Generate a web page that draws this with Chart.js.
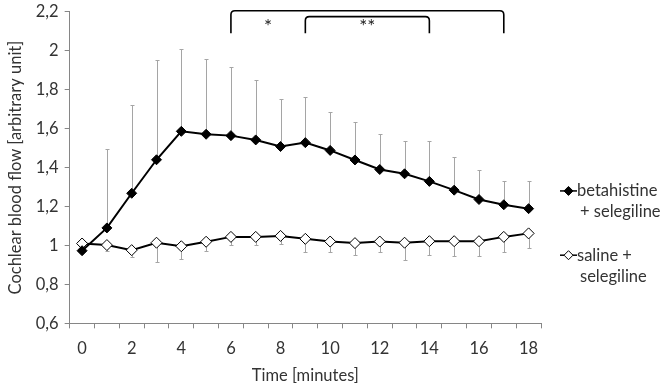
<!DOCTYPE html>
<html><head><meta charset="utf-8">
<script src="https://cdn.jsdelivr.net/npm/chart.js@4/dist/chart.umd.min.js"></script>
<style>html,body{margin:0;padding:0;background:#fff}#wrap{width:662px;height:383px;position:relative}</style>
</head><body><div id="wrap"><canvas id="c" width="662" height="383"></canvas></div>
<script>
// ---- data ----
const timeLabels = ['0','1','2','3','4','5','6','7','8','9','10','11','12','13','14','15','16','17','18'];
const betaValues = [0.973,1.090,1.268,1.440,1.586,1.571,1.564,1.542,1.508,1.528,1.488,1.439,1.390,1.368,1.329,1.284,1.236,1.209,1.189];
const betaSD     = [0.010,0.403,0.454,0.510,0.423,0.387,0.352,0.310,0.243,0.235,0.199,0.195,0.184,0.170,0.206,0.170,0.150,0.122,0.142];
const salineValues = [1.010,1.002,0.976,1.014,0.996,1.019,1.044,1.044,1.049,1.034,1.020,1.012,1.020,1.014,1.022,1.022,1.022,1.044,1.062];
const salineSD     = [0.010,0.031,0.033,0.097,0.065,0.048,0.042,0.042,0.044,0.069,0.052,0.059,0.052,0.087,0.069,0.076,0.076,0.076,0.074];
const seriesNames = ['betahistine + selegiline','saline + selegiline'];
const legendLines = [['betahistine','+ selegiline'],['saline +','selegiline']];
const yMin = 0.6, yMax = 2.2, yStep = 0.2;
const brackets = [{from:6,to:17,level:2.205},{from:9,to:14,level:2.175}];
const bracketEnd = 2.09;
const starMarks = [{at:7.5,text:'*'},{at:11.5,text:'**'}];
const starLevel = 2.12;

const FONT = 'Lato';
const FS = 16.5;
const TXT = '#333333';
const AXIS = '#868686';

const errorBars = {
  id:'errorBars',
  beforeDatasetsDraw(chart){
    const {ctx, scales:{x,y}} = chart;
    ctx.save();
    ctx.strokeStyle = '#a5a5a5'; ctx.lineWidth = 1;
    const draw = (vals, errs, dir) => {
      vals.forEach((v,i)=>{
        const px = Math.round(x.getPixelForValue(i))+0.5;
        const y0 = y.getPixelForValue(v);
        const y1 = Math.round(y.getPixelForValue(v+dir*errs[i]))+0.5;
        ctx.beginPath(); ctx.moveTo(px,y0); ctx.lineTo(px,y1);
        ctx.moveTo(px-2,y1); ctx.lineTo(px+2,y1); ctx.stroke();
      });
    };
    draw(betaValues, betaSD, 1);
    draw(salineValues, salineSD, -1);
    ctx.restore();
  }
};

const annot = {
  id:'annot',
  afterDraw(chart){
    const {ctx, scales:{x,y}} = chart;
    ctx.save();
    ctx.strokeStyle = '#000'; ctx.lineWidth = 1.6;
    const yb = y.getPixelForValue(bracketEnd);
    brackets.forEach(b=>{
      const x0 = x.getPixelForValue(b.from), x1 = x.getPixelForValue(b.to);
      const yt = y.getPixelForValue(b.level), r = 4;
      ctx.beginPath();
      ctx.moveTo(x0,yb); ctx.lineTo(x0,yt+r);
      ctx.quadraticCurveTo(x0,yt,x0+r,yt);
      ctx.lineTo(x1-r,yt);
      ctx.quadraticCurveTo(x1,yt,x1,yt+r);
      ctx.lineTo(x1,yb);
      ctx.stroke();
    });
    ctx.fillStyle = '#222';
    ctx.font = '19px ' + FONT;
    ctx.textAlign = 'center'; ctx.textBaseline = 'middle';
    starMarks.forEach(s=>{
      ctx.fillText(s.text, (x.getPixelForValue(Math.floor(s.at))+x.getPixelForValue(Math.ceil(s.at)))/2, y.getPixelForValue(starLevel));
    });
    // legend
    const ca = chart.chartArea;
    const lx = ca.right + 19;
    const groupY = [y.getPixelForValue(1.28), y.getPixelForValue(0.95)];
    ctx.font = FS + 'px ' + FONT; ctx.textAlign = 'left'; ctx.textBaseline = 'middle';
    chart.data.datasets.forEach((ds,i)=>{
      const cy = groupY[i];
      ctx.strokeStyle = ds.borderColor; ctx.lineWidth = 1.5;
      ctx.beginPath(); ctx.moveTo(lx, cy); ctx.lineTo(lx+17, cy); ctx.stroke();
      const r = 4.5, cx = lx+8.5;
      ctx.beginPath(); ctx.moveTo(cx, cy-r); ctx.lineTo(cx+r, cy); ctx.lineTo(cx, cy+r); ctx.lineTo(cx-r, cy); ctx.closePath();
      ctx.fillStyle = ds.pointBackgroundColor; ctx.fill();
      ctx.lineWidth = 1; ctx.strokeStyle = '#000'; ctx.stroke();
      ctx.fillStyle = TXT;
      legendLines[i].forEach((t,k)=>{
        ctx.fillText(t, k===0 ? lx+17 : lx+20, cy + k*21);
      });
    });
    ctx.restore();
  }
};

new Chart(document.getElementById('c'), {
  type:'line',
  data:{
    labels: timeLabels,
    datasets:[
      {label: seriesNames[0], data: betaValues, borderColor:'#000', borderWidth:2, pointStyle:'rectRot', pointRadius:5, pointBackgroundColor:'#000', pointBorderColor:'#000', pointBorderWidth:1, tension:0},
      {label: seriesNames[1], data: salineValues, borderColor:'#000', borderWidth:2, pointStyle:'rectRot', pointRadius:5.5, pointBackgroundColor:'#fff', pointBorderColor:'#000', pointBorderWidth:1, tension:0}
    ]
  },
  options:{
    responsive:false, animation:false,
    layout:{padding:{left:6, right:121, top:0, bottom:0}},
    plugins:{legend:{display:false}, tooltip:{enabled:false}},
    scales:{
      x:{
        type:'category', offset:true,
        grid:{display:true, offset:true, drawOnChartArea:false, drawTicks:true, tickLength:5, color:AXIS},
        border:{display:true, color:AXIS, width:1},
        ticks:{autoSkip:false, maxRotation:0, color:TXT, font:{family:FONT, size:FS}, padding:10,
          callback:function(v,i){ return (i%2===0) ? timeLabels[i] : ''; }},
        title:{display:true, text:'Time [minutes]', color:TXT, font:{family:FONT, size:FS, lineHeight:0.9}, padding:{top:0,bottom:0}}
      },
      y:{
        min:yMin, max:yMax,
        grid:{display:true, drawOnChartArea:false, drawTicks:true, tickLength:5, color:AXIS},
        border:{display:true, color:AXIS, width:1},
        ticks:{stepSize:yStep, color:TXT, font:{family:FONT, size:FS, lineHeight:0.7}, padding:6,
          callback:function(v){ return String(Number(v.toFixed(1))).replace('.',','); }},
        title:{display:true, text:'Cochlear blood flow [arbitrary unit]', color:TXT, font:{family:FONT, size:FS}, padding:{top:0,bottom:4}}
      }
    }
  },
  plugins:[errorBars, annot]
});
</script>
</body></html>
